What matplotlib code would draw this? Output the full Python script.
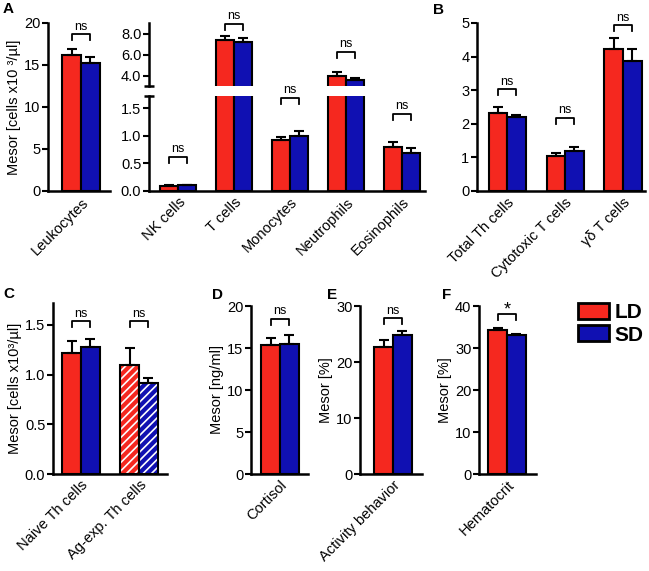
import matplotlib
matplotlib.use('Agg')
import matplotlib.pyplot as plt
import numpy as np
from matplotlib.patches import Patch

plt.rcParams['font.family'] = ['Liberation Sans', 'DejaVu Sans']
plt.rcParams['hatch.linewidth'] = 1.2

RED = '#F5281F'
BLUE = '#1010B2'

# ---------------- data ----------------
leuk_cats = ['Leukocytes']
leuk_ld = [16.24]; leuk_ld_sem = [0.63]
leuk_sd = [15.25]; leuk_sd_sem = [0.71]

sub_cats = ['NK cells', 'T cells', 'Monocytes', 'Neutrophils', 'Eosinophils']
sub_ld = [0.09, 7.46, 0.93, 3.92, 0.80]; sub_ld_sem = [0.02, 0.34, 0.05, 0.38, 0.08]
sub_sd = [0.10, 7.20, 0.99, 3.60, 0.68]; sub_sd_sem = [0.01, 0.40, 0.09, 0.20, 0.09]

b_cats = ['Total Th cells', 'Cytotoxic T cells', 'γδ T cells']
b_ld = [2.31, 1.04, 4.22]; b_ld_sem = [0.18, 0.10, 0.33]
b_sd = [2.19, 1.20, 3.88]; b_sd_sem = [0.07, 0.10, 0.36]

c_cats = ['Naive Th cells', 'Ag-exp. Th cells']
c_ld = [1.22, 1.10]; c_ld_sem = [0.12, 0.17]
c_sd = [1.28, 0.92]; c_sd_sem = [0.08, 0.05]

d_cats = ['Cortisol']
d_ld = [15.3]; d_ld_sem = [0.9]
d_sd = [15.5]; d_sd_sem = [1.1]

e_cats = ['Activity behavior']
e_ld = [22.7]; e_ld_sem = [1.3]
e_sd = [24.9]; e_sd_sem = [0.6]

f_cats = ['Hematocrit']
f_ld = [34.4]; f_ld_sem = [0.4]
f_sd = [33.0]; f_sd_sem = [0.4]

W, H = 649, 571
fig = plt.figure(figsize=(W / 100, H / 100), dpi=100)

BW = 0.32
FS = 10.5


def px_axes(l, t, r, b):
    ax = fig.add_axes([l / W, 1 - b / H, (r - l) / W, (b - t) / H])
    ax._hpx = b - t
    for s in ['top', 'right']:
        ax.spines[s].set_visible(False)
    for s in ['left', 'bottom']:
        ax.spines[s].set_linewidth(1.8)
    ax.tick_params(axis='y', width=1.5, length=4, labelsize=FS, pad=1.5)
    ax.tick_params(axis='x', length=0, labelsize=FS, pad=3)
    return ax


def draw_bars(ax, cats, ld, ld_sem, sd, sd_sem, hatch_idx=()):
    x = np.arange(len(cats))
    for xs, vals, sems, col in [(x - BW / 2, ld, ld_sem, RED), (x + BW / 2, sd, sd_sem, BLUE)]:
        for i, (xx, v) in enumerate(zip(xs, vals)):
            if i in hatch_idx:
                ax.bar(xx, v, BW, color=col, hatch='////', edgecolor='white', linewidth=0, zorder=2)
                ax.bar(xx, v, BW, fill=False, edgecolor='black', linewidth=1.5, zorder=3)
            else:
                ax.bar(xx, v, BW, color=col, edgecolor='black', linewidth=1.5, zorder=2)
        ax.errorbar(xs, vals, yerr=[np.zeros(len(vals)), sems], fmt='none', ecolor='black',
                    elinewidth=1.5, capsize=3.5, capthick=1.5, zorder=4)
    ax.set_xticks(x)
    ax.set_xticklabels(cats, rotation=45, ha='right', rotation_mode='anchor', fontsize=FS)


def bracket(ax, i, y, text='ns', fs=9):
    y0, y1 = ax.get_ylim()
    dy = 6 / ax._hpx * (y1 - y0)
    ax.plot([i - BW / 2, i - BW / 2, i + BW / 2, i + BW / 2], [y - dy, y, y, y - dy],
            color='black', lw=1.3, clip_on=False, zorder=5)
    ax.annotate(text, xy=(i, y), xytext=(0, 1 if text == 'ns' else -3), textcoords='offset points',
                ha='center', va='bottom', fontsize=fs, annotation_clip=False)


# ---------------- Panel A left ----------------
axL = px_axes(48, 23, 110, 191)
draw_bars(axL, leuk_cats, leuk_ld, leuk_ld_sem, leuk_sd, leuk_sd_sem)
axL.set_xlim(-0.57, 0.5)
axL.set_ylim(0, 20)
axL.set_yticks([0, 5, 10, 15, 20])
axL.set_ylabel('Mesor [cells x10 ³/µl]', fontsize=FS, labelpad=2)
bracket(axL, 0, 18.7)

# ---------------- Panel A right (broken axis) ----------------
axAU = px_axes(149, 23, 425, 86)
axAL = px_axes(149, 96, 425, 191)
draw_bars(axAU, sub_cats, sub_ld, sub_ld_sem, sub_sd, sub_sd_sem)
draw_bars(axAL, sub_cats, sub_ld, sub_ld_sem, sub_sd, sub_sd_sem)
for ax in (axAU, axAL):
    ax.set_xlim(-0.52, 4.41)
axAU.set_ylim(3.0, 9.05)
axAU.set_yticks([4, 6, 8])
axAU.set_yticklabels(['4.0', '6.0', '8.0'])
axAU.spines['bottom'].set_visible(False)
axAU.set_xticks([])
axAL.set_ylim(0, 1.72)
axAL.set_yticks([0, 0.5, 1.0, 1.5])
axAL.set_yticklabels(['0.0', '0.5', '1.0', '1.5'])
axAU.plot([0], [0], transform=axAU.transAxes, marker='_', ms=7, mew=1.8, color='k', clip_on=False)
axAL.plot([0], [1], transform=axAL.transAxes, marker='_', ms=7, mew=1.8, color='k', clip_on=False)
bracket(axAL, 0, 0.62)
bracket(axAL, 2, 1.69)
bracket(axAL, 4, 1.40)
bracket(axAU, 1, 9.0)
bracket(axAU, 3, 6.28)

# ---------------- Panel B ----------------
axB = px_axes(477, 23, 645, 191)
draw_bars(axB, b_cats, b_ld, b_ld_sem, b_sd, b_sd_sem)
axB.set_xlim(-0.52, 2.38)
axB.set_ylim(0, 5)
axB.set_yticks([0, 1, 2, 3, 4, 5])
bracket(axB, 0, 3.03)
bracket(axB, 1, 2.18)
bracket(axB, 2, 4.94)

# ---------------- Panel C ----------------
axC = px_axes(53, 303, 167, 474)
draw_bars(axC, c_cats, c_ld, c_ld_sem, c_sd, c_sd_sem, hatch_idx=(1,))
axC.set_xlim(-0.48, 1.48)
axC.set_ylim(0, 1.72)
axC.set_yticks([0, 0.5, 1.0, 1.5])
axC.set_yticklabels(['0.0', '0.5', '1.0', '1.5'])
axC.set_ylabel('Mesor [cells x10³/µl]', fontsize=FS, labelpad=2)
bracket(axC, 0, 1.54)
bracket(axC, 1, 1.54)

# ---------------- Panel D ----------------
axD = px_axes(251, 306, 308, 474)
draw_bars(axD, d_cats, d_ld, d_ld_sem, d_sd, d_sd_sem)
axD.set_xlim(-0.5, 0.48)
axD.set_ylim(0, 20)
axD.set_yticks([0, 5, 10, 15, 20])
axD.set_ylabel('Mesor [ng/ml]', fontsize=FS, labelpad=2)
bracket(axD, 0, 18.5)

# ---------------- Panel E ----------------
axE = px_axes(360, 306, 422, 474)
draw_bars(axE, e_cats, e_ld, e_ld_sem, e_sd, e_sd_sem)
axE.set_xlim(-0.57, 0.5)
axE.set_ylim(0, 30)
axE.set_yticks([0, 10, 20, 30])
axE.set_ylabel('Mesor [%]', fontsize=FS, labelpad=2)
bracket(axE, 0, 27.8)

# ---------------- Panel F ----------------
axF = px_axes(479, 306, 536, 474)
draw_bars(axF, f_cats, f_ld, f_ld_sem, f_sd, f_sd_sem)
axF.set_xlim(-0.48, 0.5)
axF.set_ylim(0, 40)
axF.set_yticks([0, 10, 20, 30, 40])
axF.set_ylabel('Mesor [%]', fontsize=FS, labelpad=2)
bracket(axF, 0, 38.0, text='*', fs=13)

# ---------------- Legend ----------------
fig.legend(handles=[Patch(facecolor=RED, edgecolor='black', linewidth=2, label='LD'),
                    Patch(facecolor=BLUE, edgecolor='black', linewidth=2, label='SD')],
           loc='upper left', bbox_to_anchor=(578 / W, 1 - 303 / H), frameon=False,
           prop={'weight': 'bold', 'size': 15}, handlelength=1.5, handleheight=0.8,
           handletextpad=0.25, labelspacing=0.15, borderaxespad=0, borderpad=0)

# ---------------- Panel letters ----------------
for lab, xp, yp in [('A', 3, 2), ('B', 433, 3), ('C', 3, 287), ('D', 212, 288),
                    ('E', 327, 288), ('F', 442, 288)]:
    fig.text(xp / W, 1 - yp / H, lab, fontsize=11, fontweight='bold', ha='left', va='top')

fig.savefig('out.png', dpi=100)
